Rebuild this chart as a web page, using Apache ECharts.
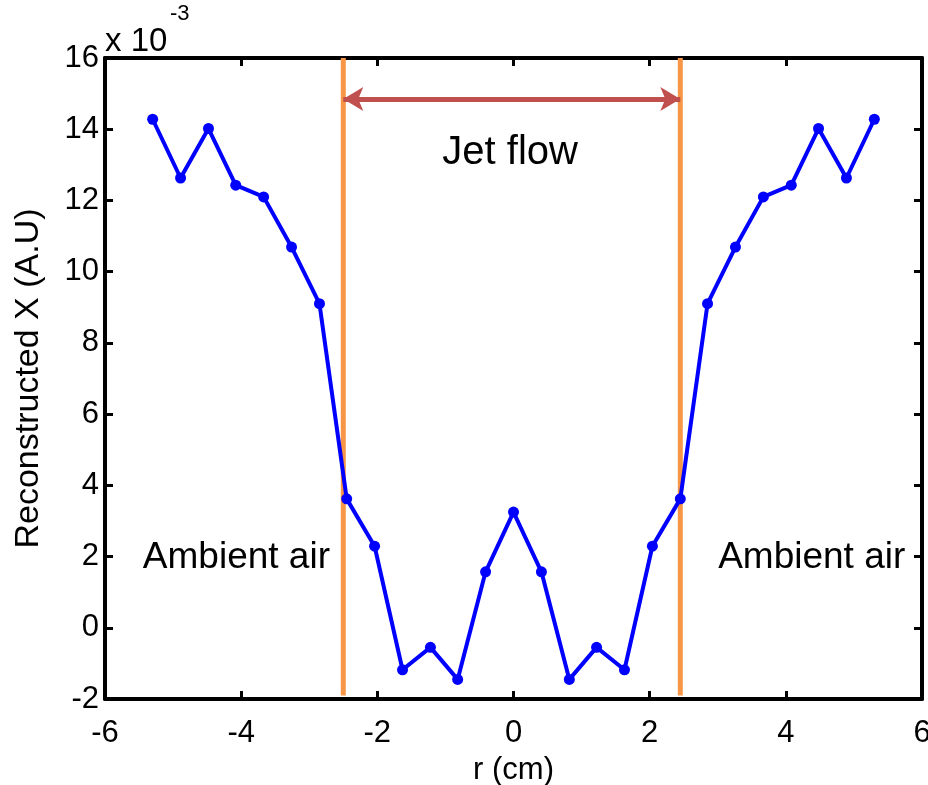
<!DOCTYPE html>
<html>
<head>
<meta charset="utf-8">
<script src="https://cdn.jsdelivr.net/npm/echarts@6/dist/echarts.min.js"></script>
<style>
  html, body { margin: 0; padding: 0; background: #ffffff; }
  #chart { width: 928px; height: 785px; }
</style>
</head>
<body>
<div id="chart"></div>
<script>
// Radial positions (cm) of the reconstruction samples
const radius = [-5.30, -4.89, -4.48, -4.08, -3.67, -3.26, -2.85, -2.45, -2.04, -1.63, -1.22, -0.82, -0.41,
                0, 0.41, 0.82, 1.22, 1.63, 2.04, 2.45, 2.85, 3.26, 3.67, 4.08, 4.48, 4.89, 5.30];
// Reconstructed X, in units of 1e-3 (A.U)
const reconstructed = [14.28, 12.63, 14.02, 12.43, 12.10, 10.69, 9.10, 3.62, 2.29, -1.18, -0.55, -1.45, 1.57,
                       3.25, 1.57, -1.45, -0.55, -1.18, 2.29, 3.62, 9.10, 10.69, 12.10, 12.43, 14.02, 12.63, 14.28];
// Jet boundaries (cm) and their vertical extent
const jetEdges = [-2.50, 2.45];
const edgeSpan = [-1.9, 16];
const arrowLevel = 14.85;
// Text annotations: [x, y, text, font size]
const notes = [[-4.07, 1.97, 'Ambient air', 37], [4.38, 1.97, 'Ambient air', 37], [-0.05, 13.33, 'Jet flow', 40]];
const xTicks = [-6, -4, -2, 0, 2, 4, 6];
const yTicks = [-2, 0, 2, 4, 6, 8, 10, 12, 14, 16];

const FONT = '"Liberation Sans", Arial, sans-serif';
const chart = echarts.init(document.getElementById('chart'));

const axisCommon = {
  type: 'value',
  axisLine: { show: true, onZero: false, lineStyle: { color: '#000', width: 4 } },
  axisTick: { show: true, inside: true, length: 8, lineStyle: { color: '#000', width: 3 } },
  splitLine: { show: false }
};

chart.setOption({
  animation: false,
  backgroundColor: '#ffffff',
  grid: { left: 105, right: 6, top: 58, bottom: 86, containLabel: false, outerBoundsMode: 'none' },
  xAxis: [
    Object.assign({}, axisCommon, {
      position: 'bottom', min: xTicks[0], max: xTicks[xTicks.length - 1], interval: 2,
      axisLabel: { color: '#000', fontFamily: FONT, fontSize: 31, margin: 19 },
      name: 'r (cm)', nameLocation: 'middle', nameGap: 56,
      nameTextStyle: { color: '#000', fontFamily: FONT, fontSize: 31 }
    }),
    Object.assign({}, axisCommon, {
      position: 'top', min: xTicks[0], max: xTicks[xTicks.length - 1], interval: 2,
      axisLabel: { show: false }
    })
  ],
  yAxis: [
    Object.assign({}, axisCommon, {
      position: 'left', min: yTicks[0], max: yTicks[yTicks.length - 1], interval: 2,
      axisLabel: { color: '#000', fontFamily: FONT, fontSize: 31, margin: 6 },
      name: 'Reconstructed X (A.U)', nameLocation: 'middle', nameGap: 59,
      nameTextStyle: { color: '#000', fontFamily: FONT, fontSize: 34 }
    }),
    Object.assign({}, axisCommon, {
      position: 'right', min: yTicks[0], max: yTicks[yTicks.length - 1], interval: 2,
      axisLabel: { show: false }
    })
  ],
  graphic: [
    { type: 'text', left: 105, top: 25, style: { text: 'x 10', font: '33px ' + FONT, fill: '#000' } },
    { type: 'text', left: 170, top: 3, style: { text: '-3', font: '22px ' + FONT, fill: '#000' } }
  ],
  series: [
    {
      type: 'line',
      data: [[jetEdges[0], edgeSpan[0]], [jetEdges[0], edgeSpan[1]]],
      showSymbol: false, silent: true, z: 3,
      lineStyle: { color: '#F79646', width: 5 }
    },
    {
      type: 'line',
      data: [[jetEdges[1], edgeSpan[0]], [jetEdges[1], edgeSpan[1]]],
      showSymbol: false, silent: true, z: 3,
      lineStyle: { color: '#F79646', width: 5 },
      markLine: {
        silent: true, symbol: ['arrow', 'arrow'], symbolSize: [18, 20],
        label: { show: false },
        lineStyle: { color: '#C0504D', width: 5, type: 'solid' },
        data: [[{ coord: [jetEdges[0], arrowLevel] }, { coord: [jetEdges[1], arrowLevel] }]]
      }
    },
    {
      type: 'line',
      data: radius.map((r, i) => [r, reconstructed[i]]),
      z: 5,
      symbol: 'circle', symbolSize: 11, showAllSymbol: true,
      lineStyle: { color: '#0000FF', width: 4 },
      itemStyle: { color: '#0000FF' }
    },
    {
      type: 'scatter',
      data: notes.map(n => ({
        value: [n[0], n[1]], name: n[2],
        label: { fontSize: n[3] }
      })),
      symbolSize: 0, silent: true, z: 6,
      itemStyle: { opacity: 1 },
      label: {
        show: true, position: 'inside', formatter: p => p.name,
        color: '#000', fontFamily: FONT, opacity: 1
      }
    }
  ]
});
</script>
</body>
</html>
